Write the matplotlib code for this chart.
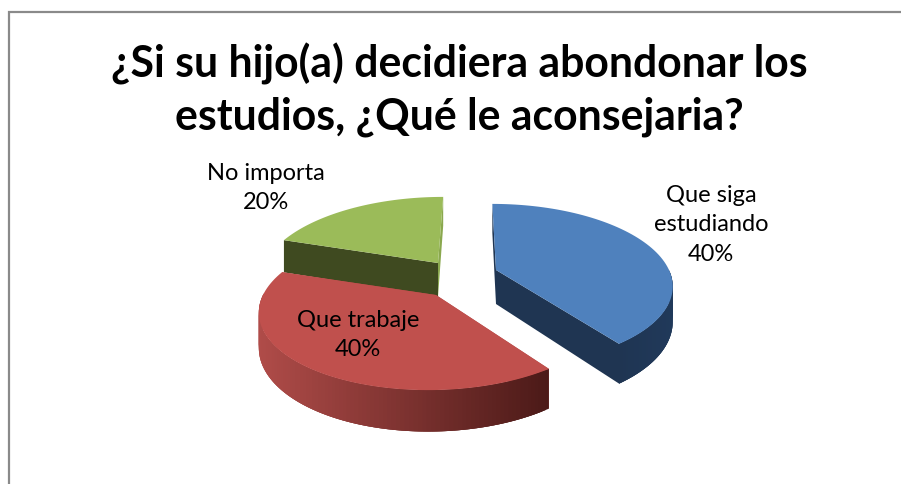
import matplotlib
matplotlib.use("Agg")
import matplotlib.pyplot as plt
import numpy as np
from matplotlib.colors import to_rgb

categories = ["Que siga\nestudiando", "Que trabaje", "No importa"]
values = [40, 40, 20]
title = "¿Si su hijo(a) decidiera abondonar los\nestudios, ¿Qué le aconsejaria?"

top_colors = ["#4f81bd", "#c0504d", "#9bbb59"]
side_left = ["#1f3552", "#b04c49", "#3f4a20"]
side_right = ["#20395a", "#4c1a18", "#3f4a20"]
end_face = ["#1f3552", "#b04c49", "#8aa84e"]

# pixel layout of the 3d pie
apex = [(496, 271), (436, 296), (438, 264)]
label_pos = [(711, 225), (358, 335), (266, 188)]
R0, r0, k, depth = 173, 78, 0.18, 34
vanish_x = 472

plt.rcParams["font.family"] = ["Lato", "DejaVu Sans"]


def project(theta, c, drop=False):
    # theta in degrees clockwise from 12 o'clock, simple perspective
    t = np.radians(theta)
    s = 1 / (1 + k * np.cos(t))
    x = c[0] + R0 * np.sin(t) * s + (vanish_x - c[0]) * (1 - s)
    y = c[1] - r0 * np.cos(t) * s
    if drop:
        y = y + depth * s
    return x, y


fig = plt.figure(figsize=(9.01, 4.85), dpi=100)
ax = fig.add_axes([0, 0, 1, 1])
ax.set_xlim(0, 901)
ax.set_ylim(485, 0)
ax.axis("off")

# frame, only left and top are inside the crop
ax.plot([8.5, 8.5, 901], [485, 13, 13], color="#8a8a8a", lw=1.6, solid_joinstyle="miter")

ends = np.cumsum(values) / np.sum(values) * 360
starts = np.r_[0, ends[:-1]]


def draw_slice(i, z):
    a, b, c = starts[i], ends[i], apex[i]
    drop_c = (c[0], c[1] + depth)
    # flat cut faces
    for ang, col in ((a, side_left[i]), (b, end_face[i])):
        x0, y0 = project(ang, c)
        x1, y1 = project(ang, c, True)
        ax.fill([c[0], x0, x1, drop_c[0]], [c[1], y0, y1, drop_c[1]],
                color=col, lw=0, zorder=z)
    # outer rim, only the part facing the viewer, shaded left to right
    th = np.linspace(a, b, 120)
    th = th[np.cos(np.radians(th)) < 0.02]
    if len(th) > 2:
        xs = project(th, c)[0]
        x_lo, x_hi = xs.min(), xs.max()
        c_left = np.array(to_rgb(side_left[i]))
        c_right = np.array(to_rgb(side_right[i]))
        # each quad runs on under the next one so no seams show
        for n in range(len(th) - 1):
            t0, t1 = th[n], th[min(n + 3, len(th) - 1)]
            xa, ya = project(t0, c)
            xb, yb = project(t1, c)
            xc, yc = project(t1, c, True)
            xd, yd = project(t0, c, True)
            f = (project(th[n], c)[0] - x_lo) / (x_hi - x_lo)
            ax.fill([xa, xb, xc, xd], [ya, yb, yc, yd], color=c_left + (c_right - c_left) * f,
                    lw=0, zorder=z + 1)
    # top face
    th = np.linspace(a, b, 80)
    xs, ys = project(th, c)
    ax.fill(np.r_[c[0], xs], np.r_[c[1], ys], color=top_colors[i], lw=0, zorder=z + 2)


draw_slice(2, 2)
draw_slice(0, 6)
draw_slice(1, 10)

for name, v, p in zip(categories, values, label_pos):
    ax.text(p[0], p[1], f"{name}\n{v}%", ha="center", va="center", fontsize=17,
            color="black", linespacing=1.48, zorder=20)

ax.text(459, 90, title, ha="center", va="center", fontsize=30.8, fontweight="bold",
        color="black", linespacing=1.36, zorder=20)

fig.savefig("out.png", dpi=100)
